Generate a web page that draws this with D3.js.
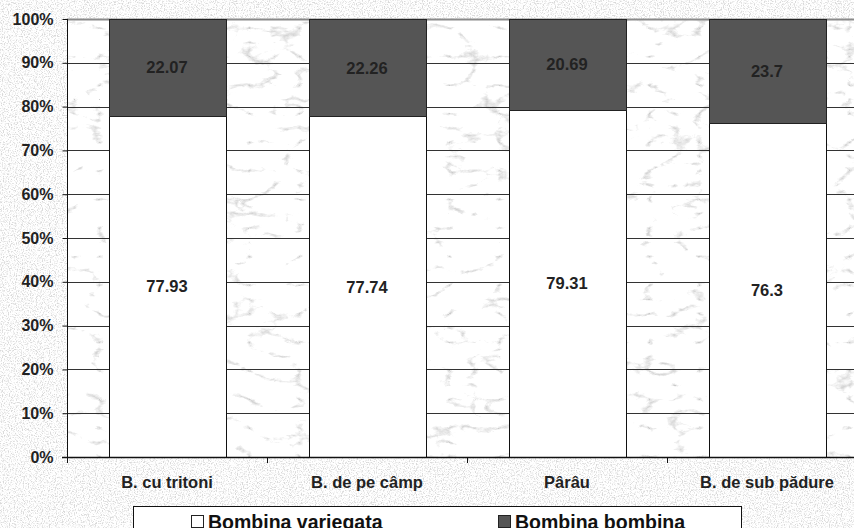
<!DOCTYPE html>
<html>
<head>
<meta charset="utf-8">
<script src="https://cdn.jsdelivr.net/npm/d3@7"></script>
<style>
  html, body { margin: 0; padding: 0; background: #fff; overflow: hidden; }
  svg { display: block; font-family: Arial, "Liberation Sans", sans-serif; }
</style>
</head>
<body>
<svg id="chart" width="854" height="528"></svg>
<script>
// Habitat categories (x axis)
const categories = ["B. cu tritoni", "B. de pe câmp", "Pârâu", "B. de sub pădure"];
// Percentage of each species per habitat
const variegata = [77.93, 77.74, 79.31, 76.3];
const bombina = [22.07, 22.26, 20.69, 23.7];
// Series names
const seriesNames = ["Bombina variegata", "Bombina bombina"];
// Y axis tick values
const yTicks = [0, 10, 20, 30, 40, 50, 60, 70, 80, 90, 100];

const svg = d3.select("#chart");
const W = 854, H = 528;
const plot = { left: 67, right: 867, top: 19, bottom: 457 };

// Textures: speckled paper for the page, marble for the plot area
const defs = svg.append("defs");
const paper = defs.append("filter").attr("id", "paper").attr("x", 0).attr("y", 0).attr("width", 1).attr("height", 1)
  .attr("color-interpolation-filters", "sRGB");
paper.append("feTurbulence").attr("type", "fractalNoise").attr("baseFrequency", 0.85).attr("numOctaves", 2).attr("seed", 3).attr("result", "n");
paper.append("feColorMatrix").attr("type", "matrix")
  .attr("values", "0 0 0 0 0.5  0 0 0 0 0.5  0 0 0 0 0.5  -4 0 0 0 2.1");
paper.append("feComponentTransfer").append("feFuncA").attr("type", "linear").attr("slope", 0.3);

const marble = defs.append("filter").attr("id", "marble").attr("x", 0).attr("y", 0).attr("width", 1).attr("height", 1)
  .attr("color-interpolation-filters", "sRGB");
marble.append("feTurbulence").attr("type", "turbulence").attr("baseFrequency", "0.02 0.035").attr("numOctaves", 5).attr("seed", 11).attr("result", "t");
marble.append("feColorMatrix").attr("in", "t").attr("type", "matrix")
  .attr("values", "0 0 0 0 0.4  0 0 0 0 0.4  0 0 0 0 0.4  -3.4 0 0 0 0.62").attr("result", "v");
marble.append("feComponentTransfer").attr("in", "v").append("feFuncA").attr("type", "linear").attr("slope", 0.55);

svg.append("rect").attr("width", W).attr("height", H).attr("fill", "#fff");
svg.append("rect").attr("width", W).attr("height", H).attr("filter", "url(#paper)");

svg.append("rect")
  .attr("x", plot.left).attr("y", plot.top)
  .attr("width", plot.right - plot.left).attr("height", plot.bottom - plot.top)
  .attr("fill", "#fff");
svg.append("rect")
  .attr("x", plot.left).attr("y", plot.top)
  .attr("width", plot.right - plot.left).attr("height", plot.bottom - plot.top)
  .attr("filter", "url(#marble)");

const x = d3.scaleBand().domain(categories)
  .range([plot.left, plot.right])
  .paddingInner(0.415).paddingOuter(0.2075);
const y = d3.scaleLinear().domain([0, 100]).range([plot.bottom, plot.top]);

// Gridlines
svg.append("g").selectAll("line").data(yTicks.filter(d => d > 0)).join("line")
  .attr("x1", plot.left).attr("x2", plot.right)
  .attr("y1", d => Math.round(y(d)) + 0.5).attr("y2", d => Math.round(y(d)) + 0.5)
  .attr("stroke", d => d === 100 ? "#8a8a8a" : "#333")
  .attr("stroke-width", d => d === 100 ? 2 : 1);

// Stacked bars
const rows = categories.map((c, i) => ({ c, v: variegata[i], b: bombina[i] }));
const bars = svg.append("g");
bars.selectAll("rect.v").data(rows).join("rect").attr("class", "v")
  .attr("x", d => Math.round(x(d.c)) + 0.5)
  .attr("y", d => Math.round(y(d.v)) + 0.5)
  .attr("width", x.bandwidth())
  .attr("height", d => Math.round(y(0)) - Math.round(y(d.v)))
  .attr("fill", "#fff").attr("stroke", "#111").attr("stroke-width", 1);
bars.selectAll("rect.b").data(rows).join("rect").attr("class", "b")
  .attr("x", d => Math.round(x(d.c)) + 0.5)
  .attr("y", d => Math.round(y(d.v + d.b)) + 0.5)
  .attr("width", x.bandwidth())
  .attr("height", d => Math.round(y(d.v)) - Math.round(y(d.v + d.b)))
  .attr("fill", "#555").attr("stroke", "#222").attr("stroke-width", 1);

// Value labels
const labels = svg.append("g").attr("font-size", 16.5).attr("font-weight", "bold")
  .attr("fill", "#222").attr("text-anchor", "middle");
labels.selectAll("text.v").data(rows).join("text")
  .attr("x", d => x(d.c) + x.bandwidth() / 2)
  .attr("y", d => (y(0) + y(d.v)) / 2)
  .attr("dy", "0.36em")
  .text(d => d.v);
labels.selectAll("text.b").data(rows).join("text")
  .attr("x", d => x(d.c) + x.bandwidth() / 2)
  .attr("y", d => (y(d.v) + y(d.v + d.b)) / 2)
  .attr("dy", "0.36em")
  .text(d => d.b);

// Y axis
const yAxis = svg.append("g").attr("transform", `translate(${plot.left + 0.5},0)`)
  .call(d3.axisLeft(y).tickValues(yTicks).tickFormat(d => d + "%").tickSize(5).tickPadding(9));
yAxis.select(".domain").attr("stroke", "#111").attr("d", `M0,${plot.top}V${plot.bottom + 1}`);
yAxis.selectAll(".tick line").attr("stroke", "#111");
yAxis.selectAll(".tick text").attr("font-size", 16).attr("font-weight", "bold")
  .attr("fill", "#222").attr("font-family", "Arial, 'Liberation Sans', sans-serif");

// X axis: baseline, tick marks at band boundaries, category names
const xg = svg.append("g");
xg.append("line").attr("x1", plot.left - 5).attr("x2", plot.right)
  .attr("y1", plot.bottom + 0.5).attr("y2", plot.bottom + 0.5).attr("stroke", "#111").attr("stroke-width", 1.5);
const bounds = d3.range(categories.length + 1).map(i => plot.left + i * x.step());
xg.selectAll("line.t").data(bounds).join("line").attr("class", "t")
  .attr("x1", d => Math.round(d) + 0.5).attr("x2", d => Math.round(d) + 0.5)
  .attr("y1", plot.bottom).attr("y2", plot.bottom + 6).attr("stroke", "#111");
xg.selectAll("text").data(categories).join("text")
  .attr("x", d => x(d) + x.bandwidth() / 2)
  .attr("y", 488)
  .attr("text-anchor", "middle").attr("font-size", 16.5).attr("font-weight", "bold").attr("fill", "#222")
  .text(d => d);

// Legend (its lower part runs past the bottom edge of the page)
const lg = svg.append("g");
lg.append("rect").attr("x", 133.5).attr("y", 506.5).attr("width", 608).attr("height", 40)
  .attr("fill", "#fff").attr("stroke", "#111");
const legendX = [191, 498];
const legendFill = ["#fff", "#555"];
seriesNames.forEach((name, i) => {
  lg.append("rect").attr("x", legendX[i] + 0.5).attr("y", 515.5).attr("width", 12).attr("height", 12)
    .attr("fill", legendFill[i]).attr("stroke", "#222");
  lg.append("text").attr("x", legendX[i] + 17).attr("y", 528.5)
    .attr("font-size", 19.5).attr("font-weight", "bold").attr("fill", "#111").text(name);
});
</script>
</body>
</html>
